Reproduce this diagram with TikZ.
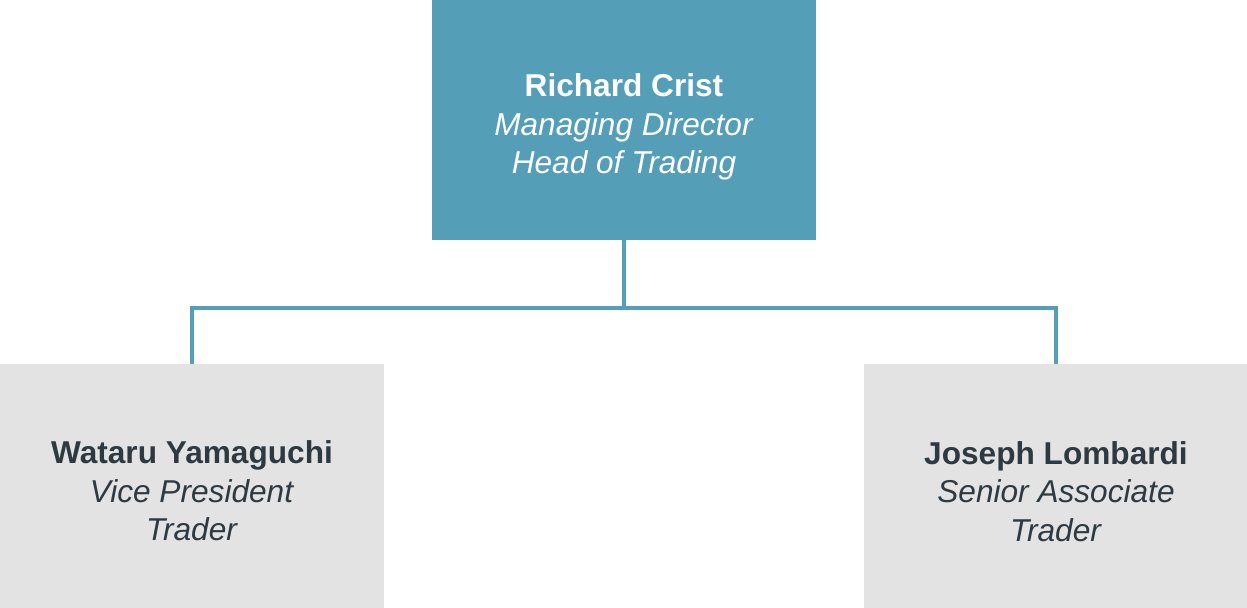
\documentclass[tikz,border=0pt]{standalone}
\usepackage{fontspec}
\setmainfont{Liberation Sans}
\definecolor{headblue}{HTML}{559EB8}
\definecolor{staffgray}{HTML}{E3E3E3}
\definecolor{inkdark}{HTML}{2D3A42}
\newcommand{\topgap}[1]{\rule{0pt}{#1}}

\begin{document}
\begin{tikzpicture}[x=0.02cm,y=-0.02cm,
    boss/.style={fill=headblue,text=white,minimum width=7.68cm,minimum height=4.8cm,
      inner sep=0pt,align=center,font=\fontsize{18}{21.8}\selectfont},
    staff/.style={fill=staffgray,text=inkdark,minimum width=7.68cm,minimum height=4.88cm,
      inner sep=0pt,align=center,font=\fontsize{18}{21.8}\selectfont},
    link/.style={draw=headblue,line width=2pt}]
  \useasboundingbox (0,0) rectangle (1247,608);

  % head of the desk
  \node[boss] (crist) at (624,120)
    {\topgap{21pt}\textbf{Richard Crist}\\\textit{Managing Director}\\\textit{Head of Trading}};

  % the two traders below
  \node[staff] (yamaguchi) at (192,486)
    {\topgap{18.5pt}\textbf{Wataru Yamaguchi}\\\textit{Vice President}\\\textit{Trader}};
  \node[staff] (lombardi) at (1056,486)
    {\topgap{19.5pt}\textbf{Joseph Lombardi}\\\textit{Senior Associate}\\\textit{Trader}};

  % reporting lines
  \coordinate (fork) at (624,308);
  \draw[link] (crist.south) -- (fork) -| (yamaguchi.north);
  \draw[link] (fork) -| (lombardi.north);
\end{tikzpicture}
\end{document}
